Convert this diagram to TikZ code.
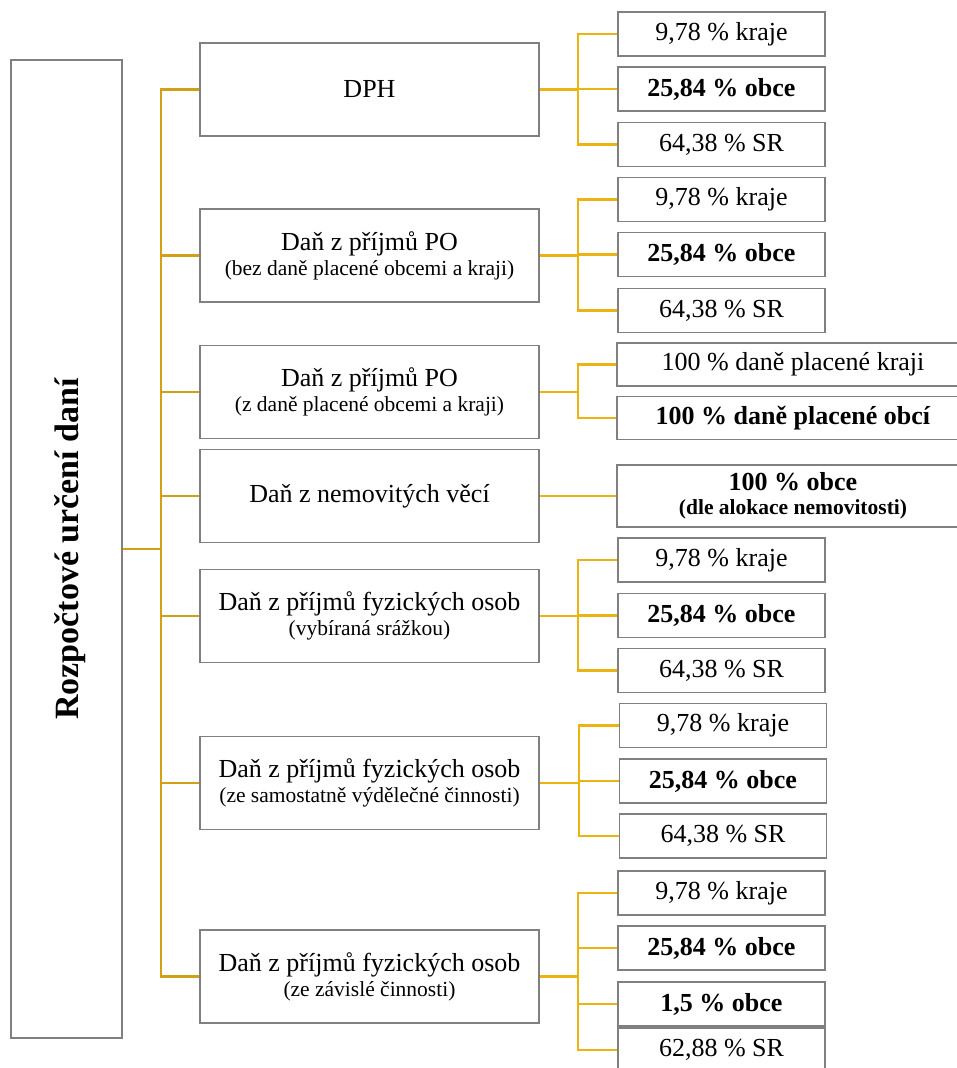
\documentclass[tikz,border=0pt]{standalone}
\usepackage{fontspec}
\setmainfont{Liberation Serif}
\definecolor{trunkc}{RGB}{210,160,20}
\definecolor{branchc}{RGB}{236,180,18}
\definecolor{boxc}{RGB}{128,128,128}
\newcommand{\mainsz}{\fontsize{26}{28}\selectfont}
\newcommand{\subsz}{\fontsize{21.5}{24}\selectfont}
\newcommand{\subbsz}{\fontsize{21.5}{23}\selectfont}
\tikzset{
  x=1pt, y=-1pt,
  box/.style={draw=boxc, line width=1.3pt, fill=white, inner sep=0pt, font=\mainsz},
  mbox/.style={box, align=center},
  leftbox/.style={box, minimum width=111pt, minimum height=978pt},
  midbox/.style={box, minimum width=339pt, minimum height=93pt},
  midbox2/.style={mbox, minimum width=339pt, minimum height=93pt},
  rbox/.style={box, minimum width=207pt, minimum height=44pt},
  wbox/.style={box, minimum width=352pt, minimum height=43pt},
  tc/.style={draw=trunkc, line width=2.2pt},
  rc/.style={draw=branchc, line width=2.2pt},
}
\begin{document}
\begin{tikzpicture}
\useasboundingbox (0,0) rectangle (957,1068);
\fill[white] (0,0) rectangle (957,1068);

% left box
\node[leftbox] (L) at (66.5,549) {};
\node[rotate=90, font=\fontsize{34}{38}\selectfont\bfseries] (title) at (70,549) {Rozpočtové určení daní};

% middle boxes
\node[midbox] (m1) at (369.5,89.5) {DPH};
\node[midbox2] (m2) at (369.5,255.5) {Daň z příjmů PO\\[-3pt]{\subsz (bez daně placené obcemi a kraji)}};
\node[midbox2] (m3) at (369.5,392) {Daň z příjmů PO\\[-3pt]{\subsz (z daně placené obcemi a kraji)}};
\node[midbox] (m4) at (369.5,496) {Daň z nemovitých věcí};
\node[midbox2] (m5) at (369.5,616) {Daň z příjmů fyzických osob\\[-3pt]{\subsz (vybíraná srážkou)}};
\node[midbox2] (m6) at (369.5,783) {Daň z příjmů fyzických osob\\[-3pt]{\subsz (ze samostatně výdělečné činnosti)}};
\node[midbox2] (m7) at (369.5,976.5) {Daň z příjmů fyzických osob\\[-3pt]{\subsz (ze závislé činnosti)}};

% right boxes group 1
\node[rbox] (r11) at (721.5,34) {9,78 \% kraje};
\node[rbox] (r12) at (721.5,89) {\textbf{25,84 \% obce}};
\node[rbox] (r13) at (721.5,144.5) {64,38 \% SR};
% group 2
\node[rbox] (r21) at (721.5,199.5) {9,78 \% kraje};
\node[rbox] (r22) at (721.5,254.5) {\textbf{25,84 \% obce}};
\node[rbox] (r23) at (721.5,310.5) {64,38 \% SR};
% group 3
\node[wbox] (r31) at (793,364.5) {100 \% daně placené kraji};
\node[wbox] (r32) at (793,418) {\textbf{100 \% daně placené obcí}};
% group 4
\node[wbox, align=center, minimum height=62pt] (r41) at (793,496) {\textbf{100 \% obce}\\[-4pt]{\subbsz\bfseries (dle alokace nemovitosti)}};
% group 5
\node[rbox] (r51) at (721.5,560) {9,78 \% kraje};
\node[rbox] (r52) at (721.5,615.5) {\textbf{25,84 \% obce}};
\node[rbox] (r53) at (721.5,670.5) {64,38 \% SR};
% group 6
\node[rbox] (r61) at (723,725.5) {9,78 \% kraje};
\node[rbox] (r62) at (723,781) {\textbf{25,84 \% obce}};
\node[rbox] (r63) at (723,836) {64,38 \% SR};
% group 7
\node[rbox] (r71) at (721.5,893) {9,78 \% kraje};
\node[rbox] (r72) at (721.5,948) {\textbf{25,84 \% obce}};
\node[rbox] (r73) at (721.5,1004) {\textbf{1,5 \% obce}};
\node[rbox] (r74) at (721.5,1050) {62,88 \% SR};

% trunk
\coordinate (t) at (161,549);
\draw[tc] (L.east) -- (t);
\foreach \m in {m1,m2,m3,m4,m5,m6,m7} {\draw[tc] (t) |- (\m.west);}

% branch junctions
\coordinate (s1) at (578,89.5);
\coordinate (s2) at (578,255.5);
\coordinate (s3) at (578,392);
\coordinate (s5) at (578,616);
\coordinate (s6) at (579,783);
\coordinate (s7) at (578,976.5);

\draw[rc] (m1.east) -- (s1);
\foreach \r in {r11,r12,r13} {\draw[rc] (s1) |- (\r.west);}
\draw[rc] (m2.east) -- (s2);
\foreach \r in {r21,r22,r23} {\draw[rc] (s2) |- (\r.west);}
\draw[rc] (m3.east) -- (s3);
\foreach \r in {r31,r32} {\draw[rc] (s3) |- (\r.west);}
\draw[rc] (m4.east) -- (r41.west);
\draw[rc] (m5.east) -- (s5);
\foreach \r in {r51,r52,r53} {\draw[rc] (s5) |- (\r.west);}
\draw[rc] (m6.east) -- (s6);
\foreach \r in {r61,r62,r63} {\draw[rc] (s6) |- (\r.west);}
\draw[rc] (m7.east) -- (s7);
\foreach \r in {r71,r72,r73,r74} {\draw[rc] (s7) |- (\r.west);}
\end{tikzpicture}
\end{document}
